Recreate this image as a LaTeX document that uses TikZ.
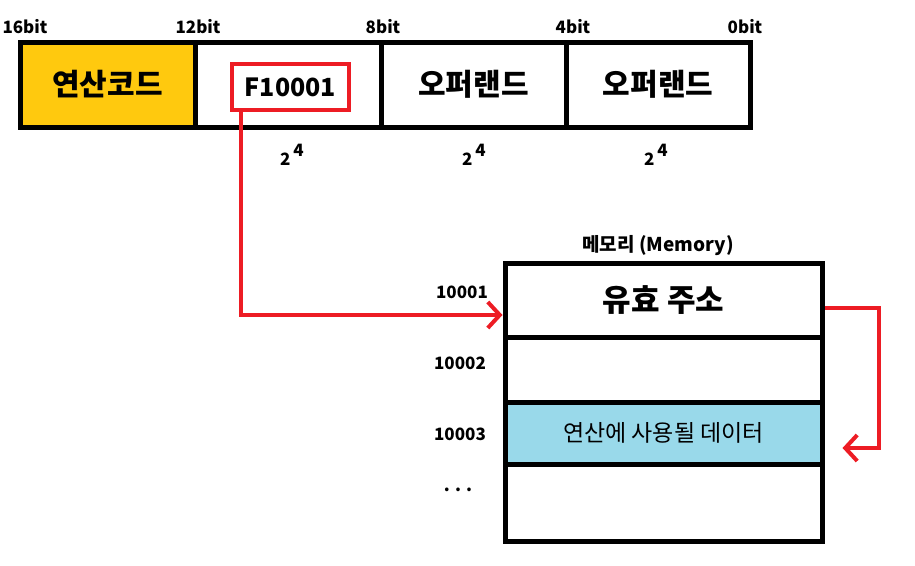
\documentclass[tikz,border=0pt]{standalone}
\usepackage{fontspec}
\setmainfont{Noto Sans CJK KR}
\usetikzlibrary{positioning}
\usetikzlibrary{arrows.meta}

\definecolor{opyellow}{RGB}{255,201,14}
\definecolor{datablue}{RGB}{153,217,234}
\definecolor{ptrred}{RGB}{237,28,36}

\tikzset{
  field/.style={draw, line width=5pt, minimum height=85pt, inner sep=0pt,
    font=\fontsize{30}{34}\selectfont\bfseries},
  memcell/.style={draw, line width=5pt, minimum width=317pt, inner sep=0pt},
  bitlbl/.style={inner sep=0pt, font=\fontsize{17}{20}\selectfont\bfseries},
  addrlbl/.style={inner sep=0pt, font=\fontsize{17}{20}\selectfont\bfseries},
  ptr/.style={draw=ptrred, line width=4pt,
    -{Straight Barb[length=12pt,width=26pt]}}
}

\begin{document}
\begin{tikzpicture}[x=1pt,y=-1pt]
\useasboundingbox (0,0) rectangle (915,565);

% instruction word
\node[field, fill=opyellow, minimum width=175pt] (opcode) at (107.5,84.5) {연산코드};
\node[field, minimum width=186pt] (addr) at (288,84.5) {};
\node[field, minimum width=185pt] (opA) at (473.5,84.5) {오퍼랜드};
\node[field, minimum width=184pt] (opB) at (658,84.5) {오퍼랜드};
\node[draw=ptrred, line width=4pt, minimum width=117pt, minimum height=46pt,
  inner sep=0pt, font=\fontsize{25}{30}\selectfont\bfseries] (fbox) at (290.5,87) {F10001};

% bit positions
\node[bitlbl] (b16) at (25,27) {16bit};
\node[bitlbl] (b12) at (198,27) {12bit};
\node[bitlbl] (b8) at (383,27) {8bit};
\node[bitlbl] (b4) at (573,27) {4bit};
\node[bitlbl] (b0) at (745,27) {0bit};

\node[bitlbl] (s1) at (292,155) {2\,\raisebox{.55em}{4}};
\node[bitlbl] (s2) at (474,155) {2\,\raisebox{.55em}{4}};
\node[bitlbl] (s3) at (656,155) {2\,\raisebox{.55em}{4}};

% memory
\node[memcell, minimum height=74pt, font=\fontsize{31}{35}\selectfont\bfseries] (eff) at (663.5,300) {유효 주소};
\node[memcell, minimum height=65pt] (m2) at (663.5,369.5) {};
\node[memcell, minimum height=62pt, fill=datablue, font=\fontsize{23}{27}\selectfont] (data) at (663.5,433) {연산에 사용될 데이터};
\node[memcell, minimum height=77pt] (m4) at (663.5,502.5) {};
\node[inner sep=0pt, font=\fontsize{19}{22}\selectfont\bfseries] (memtitle) at (658,246) {메모리 (Memory)};

\node[addrlbl] (a1) at (462,292) {10001};
\node[addrlbl] (a2) at (460,363) {10002};
\node[addrlbl] (a3) at (460,434) {10003};
\node[addrlbl] (dots) at (458,490) {. . .};

% pointers
\draw[ptr] ([xshift=11pt]fbox.south west) |- ([yshift=-15pt]eff.west);
\draw[ptr] ([yshift=-8pt]eff.east) -- ++(54,0) |- ([xshift=18pt,yshift=-15pt]data.east);
\end{tikzpicture}
\end{document}
